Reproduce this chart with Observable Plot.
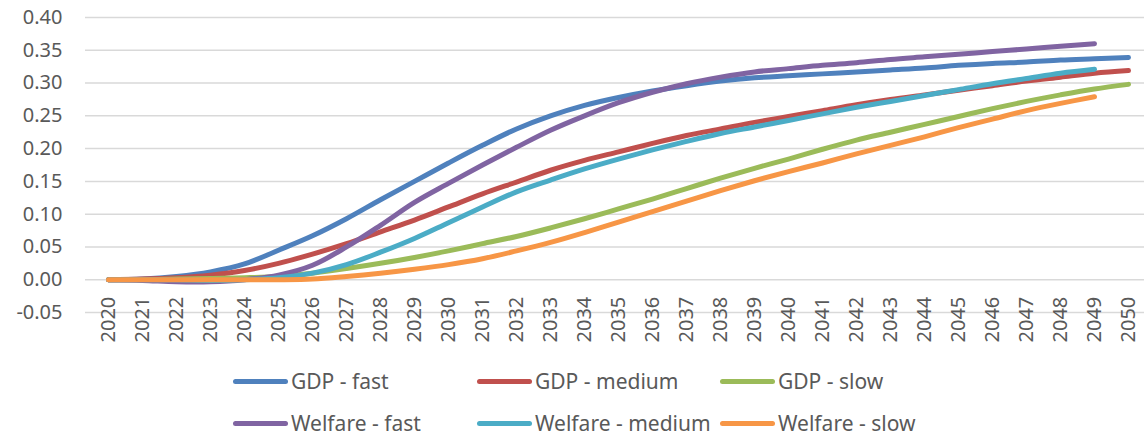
<!DOCTYPE html>
<html>
<head>
<meta charset="utf-8">
<script src="https://cdn.jsdelivr.net/npm/d3@7"></script>
<script src="https://cdn.jsdelivr.net/npm/@observablehq/plot@0.6"></script>
<style>
  html, body { margin: 0; padding: 0; background: #fff; }
  #wrap { position: relative; width: 1144px; height: 436px; overflow: hidden; font-family: "Noto Sans", sans-serif; }
  #legend { position: absolute; left: 0; top: 0; width: 1144px; height: 436px; pointer-events: none; }
  .item { position: absolute; display: flex; align-items: center; height: 22px; }
  .sw { width: 55px; height: 5px; border-radius: 3px; margin-right: 3px; }
  .lab { font-size: 21px; color: #595959; white-space: nowrap; line-height: 22px; }
</style>
</head>
<body>
<div id="wrap"><div id="chart"></div><div id="legend"></div></div>
<script>
const years = d3.range(2020, 2051);
const yTicks = [-0.05, 0, 0.05, 0.10, 0.15, 0.20, 0.25, 0.30, 0.35, 0.40];

const seriesNames = ["GDP - fast", "GDP - medium", "GDP - slow", "Welfare - fast", "Welfare - medium", "Welfare - slow"];
const seriesColors = ["#4f81bd", "#c0504d", "#9bbb59", "#8064a2", "#4bacc6", "#f79646"];

// 2020..2050
const gdpFast = [0, 0.001, 0.005, 0.012, 0.024, 0.045, 0.067, 0.093, 0.122, 0.150, 0.178, 0.205, 0.230, 0.250, 0.266, 0.278, 0.288, 0.296, 0.303, 0.308, 0.311, 0.314, 0.317, 0.320, 0.323, 0.327, 0.330, 0.332, 0.335, 0.337, 0.339];
const gdpMedium = [0, 0.001, 0.003, 0.007, 0.014, 0.025, 0.039, 0.055, 0.073, 0.091, 0.111, 0.131, 0.149, 0.167, 0.182, 0.195, 0.208, 0.220, 0.230, 0.240, 0.249, 0.258, 0.267, 0.275, 0.282, 0.289, 0.296, 0.303, 0.309, 0.315, 0.319];
const gdpSlow = [0, 0, 0.001, 0.002, 0.003, 0.005, 0.010, 0.017, 0.025, 0.034, 0.044, 0.055, 0.066, 0.079, 0.093, 0.108, 0.123, 0.139, 0.155, 0.170, 0.184, 0.199, 0.213, 0.225, 0.237, 0.249, 0.261, 0.272, 0.282, 0.291, 0.298];
// 2020..2049
const welfareFast = [0, -0.001, -0.003, -0.003, 0.000, 0.007, 0.022, 0.050, 0.083, 0.118, 0.147, 0.175, 0.202, 0.228, 0.250, 0.270, 0.286, 0.299, 0.309, 0.317, 0.322, 0.327, 0.331, 0.336, 0.340, 0.344, 0.348, 0.352, 0.356, 0.360];
const welfareMedium = [0, 0, 0, -0.001, 0.000, 0.003, 0.010, 0.023, 0.042, 0.063, 0.087, 0.111, 0.134, 0.152, 0.169, 0.184, 0.198, 0.211, 0.223, 0.233, 0.243, 0.253, 0.263, 0.272, 0.281, 0.290, 0.299, 0.307, 0.315, 0.321];
const welfareSlow = [0, 0, 0, 0, 0, 0, 0.001, 0.005, 0.010, 0.016, 0.023, 0.032, 0.044, 0.057, 0.072, 0.088, 0.104, 0.120, 0.136, 0.151, 0.165, 0.178, 0.192, 0.205, 0.218, 0.232, 0.245, 0.258, 0.269, 0.279];

const seriesValues = [gdpFast, gdpMedium, gdpSlow, welfareFast, welfareMedium, welfareSlow];

const lineMarks = seriesValues.map((vals, i) =>
  Plot.line(vals.map((v, j) => ({year: years[j], value: v})), {
    x: "year", y: "value",
    stroke: seriesColors[i], strokeWidth: 5,
    strokeLinecap: "round", strokeLinejoin: "round",
    curve: "catmull-rom"
  })
);

const chart = Plot.plot({
  width: 1144,
  height: 372,
  marginLeft: 85,
  marginRight: 0,
  marginTop: 17,
  marginBottom: 60,
  style: {fontFamily: "Noto Sans", fontSize: "20px", color: "#595959", background: "#fff"},
  x: {type: "point", domain: years, range: [102.5, 1133], padding: 0, axis: null},
  y: {domain: [-0.05, 0.40], axis: null},
  marks: [
    Plot.gridY(yTicks, {stroke: "#d9d9d9", strokeOpacity: 1, strokeWidth: 1.5}),
    Plot.axisY(yTicks, {tickSize: 0, tickPadding: 23, tickFormat: d => d.toFixed(2), fontSize: 20, fill: "#595959", label: null}),
    Plot.text(years, {
      x: d => d, y: d => 0, text: d => String(d),
      rotate: -90, textAnchor: "end", lineAnchor: "middle",
      dy: 17, fontSize: 20, fill: "#595959"
    }),
    ...lineMarks
  ]
});
document.getElementById("chart").appendChild(chart);

// legend
const legend = document.getElementById("legend");
const colX = [233, 477, 720];
const rowY = [381, 423];
seriesNames.forEach((name, i) => {
  const item = document.createElement("div");
  item.className = "item";
  item.style.left = colX[i % 3] + "px";
  item.style.top = (rowY[Math.floor(i / 3)] - 11) + "px";
  const sw = document.createElement("div");
  sw.className = "sw";
  sw.style.background = seriesColors[i];
  const lab = document.createElement("span");
  lab.className = "lab";
  lab.textContent = name;
  item.appendChild(sw);
  item.appendChild(lab);
  legend.appendChild(item);
});
</script>
</body>
</html>
